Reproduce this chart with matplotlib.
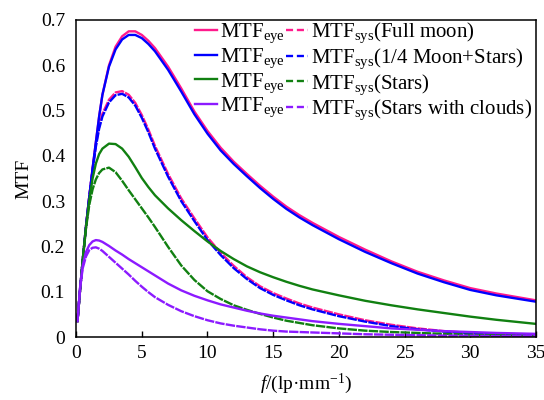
import matplotlib
matplotlib.use("Agg")
import matplotlib.pyplot as plt
from matplotlib.lines import Line2D
from matplotlib.ticker import FuncFormatter

plt.rcParams["font.family"] = ["Liberation Serif", "DejaVu Serif"]
plt.rcParams["mathtext.fontset"] = "custom"
plt.rcParams["mathtext.rm"] = "Liberation Serif"
plt.rcParams["mathtext.it"] = "Liberation Serif:italic"

# spatial frequency (lp/mm), shared by all curves
freq = [0.1, 0.3, 0.5, 0.75, 1.0, 1.25, 1.5, 1.75, 2.0, 2.5, 3.0, 3.5, 4.0, 4.5, 5.0,
        5.5, 6, 7, 8, 9, 10, 11, 12, 13, 14, 15, 16, 17, 18, 20, 22, 24, 26, 28, 30, 32, 35]

# MTF_eye / MTF_sys for each illumination condition
eye_full = [0.035, 0.105, 0.17, 0.245, 0.31, 0.372, 0.43, 0.487, 0.535, 0.60, 0.641,
            0.664, 0.675, 0.675, 0.667, 0.654, 0.638, 0.597, 0.549, 0.498, 0.455, 0.418,
            0.387, 0.36, 0.334, 0.31, 0.288, 0.269, 0.252, 0.221, 0.193, 0.167, 0.144,
            0.125, 0.108, 0.096, 0.081]
sys_full = [0.035, 0.105, 0.17, 0.245, 0.31, 0.37, 0.425, 0.465, 0.493, 0.524, 0.54,
            0.543, 0.535, 0.517, 0.49, 0.458, 0.422, 0.36, 0.306, 0.262, 0.22, 0.186,
            0.157, 0.132, 0.112, 0.097, 0.085, 0.074, 0.065, 0.05, 0.037, 0.027, 0.019,
            0.013, 0.009, 0.007, 0.005]
eye_quarter = [0.035, 0.105, 0.17, 0.245, 0.31, 0.372, 0.43, 0.487, 0.535, 0.597, 0.635,
               0.657, 0.667, 0.667, 0.66, 0.647, 0.631, 0.59, 0.542, 0.492, 0.449, 0.412,
               0.382, 0.355, 0.329, 0.305, 0.283, 0.264, 0.247, 0.216, 0.188, 0.163, 0.14,
               0.121, 0.104, 0.092, 0.078]
sys_quarter = [0.035, 0.105, 0.17, 0.245, 0.31, 0.368, 0.42, 0.46, 0.487, 0.518, 0.534,
               0.537, 0.529, 0.511, 0.484, 0.452, 0.416, 0.354, 0.30, 0.256, 0.214, 0.181,
               0.152, 0.128, 0.108, 0.093, 0.081, 0.07, 0.061, 0.046, 0.034, 0.024, 0.017,
               0.012, 0.008, 0.006, 0.004]
eye_stars = [0.035, 0.105, 0.17, 0.243, 0.303, 0.35, 0.383, 0.404, 0.416, 0.427, 0.426,
             0.416, 0.398, 0.375, 0.351, 0.331, 0.313, 0.284, 0.258, 0.234, 0.211, 0.19,
             0.172, 0.156, 0.143, 0.132, 0.122, 0.113, 0.105, 0.092, 0.08, 0.07, 0.061,
             0.053, 0.045, 0.038, 0.029]
sys_stars = [0.035, 0.105, 0.17, 0.24, 0.292, 0.326, 0.348, 0.362, 0.37, 0.374, 0.364,
             0.345, 0.324, 0.304, 0.284, 0.264, 0.243, 0.199, 0.158, 0.126, 0.101, 0.084,
             0.07, 0.06, 0.051, 0.043, 0.036, 0.031, 0.026, 0.019, 0.014, 0.011, 0.009,
             0.007, 0.005, 0.004, 0.003]
eye_clouds = [0.035, 0.11, 0.158, 0.188, 0.203, 0.211, 0.214, 0.213, 0.21, 0.201, 0.191,
              0.182, 0.172, 0.163, 0.154, 0.145, 0.136, 0.118, 0.103, 0.091, 0.081, 0.072,
              0.065, 0.058, 0.052, 0.047, 0.043, 0.039, 0.035, 0.029, 0.024, 0.019, 0.016,
              0.013, 0.011, 0.009, 0.007]
sys_clouds = [0.035, 0.108, 0.152, 0.178, 0.192, 0.197, 0.198, 0.195, 0.19, 0.177, 0.164,
              0.151, 0.138, 0.124, 0.111, 0.099, 0.088, 0.071, 0.057, 0.046, 0.037, 0.03,
              0.025, 0.021, 0.017, 0.014, 0.012, 0.011, 0.01, 0.008, 0.006, 0.005, 0.004,
              0.003, 0.003, 0.002, 0.002]

conditions = ["Full moon", "1/4 Moon+Stars", "Stars", "Stars with clouds"]
colors = ["#FF1A8C", "#0000FF", "#118011", "#8C1AFF"]
eye_curves = [eye_full, eye_quarter, eye_stars, eye_clouds]
sys_curves = [sys_full, sys_quarter, sys_stars, sys_clouds]

fig = plt.figure(figsize=(5.44, 4.0), dpi=100)
ax = fig.add_axes([0.14, 0.1575, 0.845, 0.7925])

for eye, sysv, c in zip(eye_curves, sys_curves, colors):
    ax.plot(freq, eye, color=c, lw=1.7)
    ax.plot(freq, sysv, color=c, lw=1.7, ls=(0, (4, 0.5)))

ax.set_xlim(0, 35)
ax.set_ylim(0, 0.7)
ax.set_xticks(range(0, 36, 5))
ax.set_yticks([i / 10 for i in range(8)])
ax.yaxis.set_major_formatter(FuncFormatter(lambda v, p: f"{v:g}"))
ax.tick_params(axis="x", direction="in", length=4, width=1, labelsize=14, pad=6)
ax.tick_params(axis="y", length=0, labelsize=14, pad=8)
for s in ax.spines.values():
    s.set_linewidth(1.1)

ax.set_xlabel("$\\mathit{f}$/(lp·mm$^{-1}$)", fontsize=14, labelpad=7)
ax.set_ylabel("MTF", fontsize=14, labelpad=6)

# legend: left column solid (eye), right column dashed (sys)
handles = [Line2D([], [], color=c, lw=1.7) for c in colors]
handles += [Line2D([], [], color=c, lw=1.7, dashes=(3, 1.6)) for c in colors]
labels = ["MTF$_{\\mathrm{eye}}$"] * 4
labels += [f"MTF$_{{\\mathrm{{sys}}}}$({n})" for n in conditions]
ax.legend(handles, labels, ncol=2, loc="upper right", bbox_to_anchor=(1.0, 1.01),
          frameon=False, fontsize=15, handlelength=1.05, handletextpad=0.15,
          columnspacing=0.05, labelspacing=0.05, borderaxespad=0.1, borderpad=0.1)

fig.savefig("out.png", dpi=100)
